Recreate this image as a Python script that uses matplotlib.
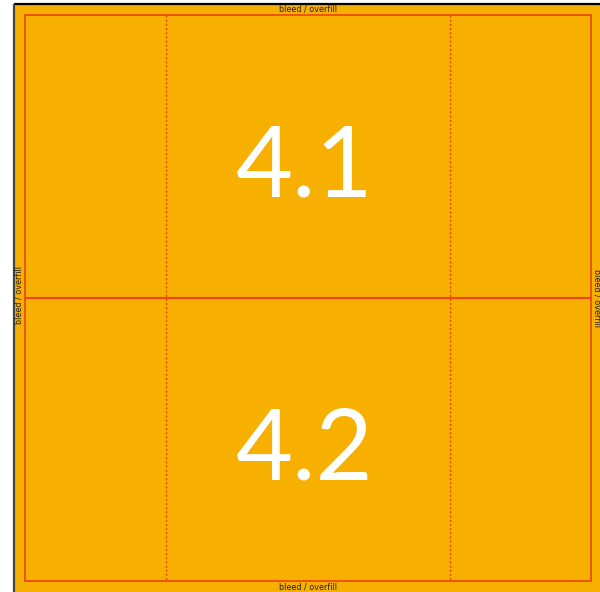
import matplotlib
matplotlib.use("Agg")
import matplotlib.pyplot as plt
from matplotlib.patches import Rectangle

# Page geometry (pixel units of the reference image)
panel_labels = ["4.1", "4.2"]
bleed_label = "bleed / overfill"
page_box = [14, 4, 600, 592]        # x0, y0, x1, y1 of bleed area
trim_box = [25, 15, 591, 581]       # x0, y0, x1, y1 of trim
row_split = [298]                   # horizontal panel divider
col_guides = [166, 450]             # dotted vertical guides

FILL = "#F7AF00"
RED = "#EE4416"

fig = plt.figure(figsize=(6.0, 5.92), dpi=100)
fig.patch.set_facecolor("white")
ax = fig.add_axes([0, 0, 1, 1])
ax.set_xlim(0, 600)
ax.set_ylim(592, 0)
ax.axis("off")

x0, y0, x1, y1 = page_box
ax.add_patch(Rectangle((x0, y0), x1 - x0, y1 - y0, facecolor=FILL, edgecolor="none", zorder=1))
ax.plot([x0, x1], [y0, y0], color="black", lw=1.6, zorder=3, solid_capstyle="butt")
ax.plot([x0, x0], [y0, y1], color="#444444", lw=1.6, zorder=3, solid_capstyle="butt")

tx0, ty0, tx1, ty1 = trim_box
ax.add_patch(Rectangle((tx0, ty0), tx1 - tx0, ty1 - ty0, facecolor="none", edgecolor=RED, lw=1.2, zorder=4))
for y in row_split:
    ax.plot([tx0, tx1], [y, y], color=RED, lw=1.5, zorder=4)
for x in col_guides:
    ax.plot([x, x], [ty0, ty1], color=RED, lw=1.0, linestyle=(0, (1.5, 1.5)), zorder=4)

# panel labels centered in each row
rows = [ty0] + row_split + [ty1]
cx = 305
for i, lab in enumerate(panel_labels):
    cy = (rows[i] + rows[i + 1]) / 2
    ax.text(cx, cy + 12, lab, color="white", fontsize=71, ha="center", va="center",
            family="Lato", fontweight="normal", zorder=5)

fs = 5.8
ax.text(308, 9.5, bleed_label, fontsize=fs, ha="center", va="center", color="#222222", zorder=5)
ax.text(308, 587.5, bleed_label, fontsize=fs, ha="center", va="center", color="#222222", zorder=5)
ax.text(19, 295, bleed_label, fontsize=fs, ha="center", va="center", rotation=90, color="#222222", zorder=5)
ax.text(596.5, 298, bleed_label, fontsize=fs, ha="center", va="center", rotation=270, color="#222222", zorder=5)

fig.savefig("out.png", dpi=100, facecolor="white")
